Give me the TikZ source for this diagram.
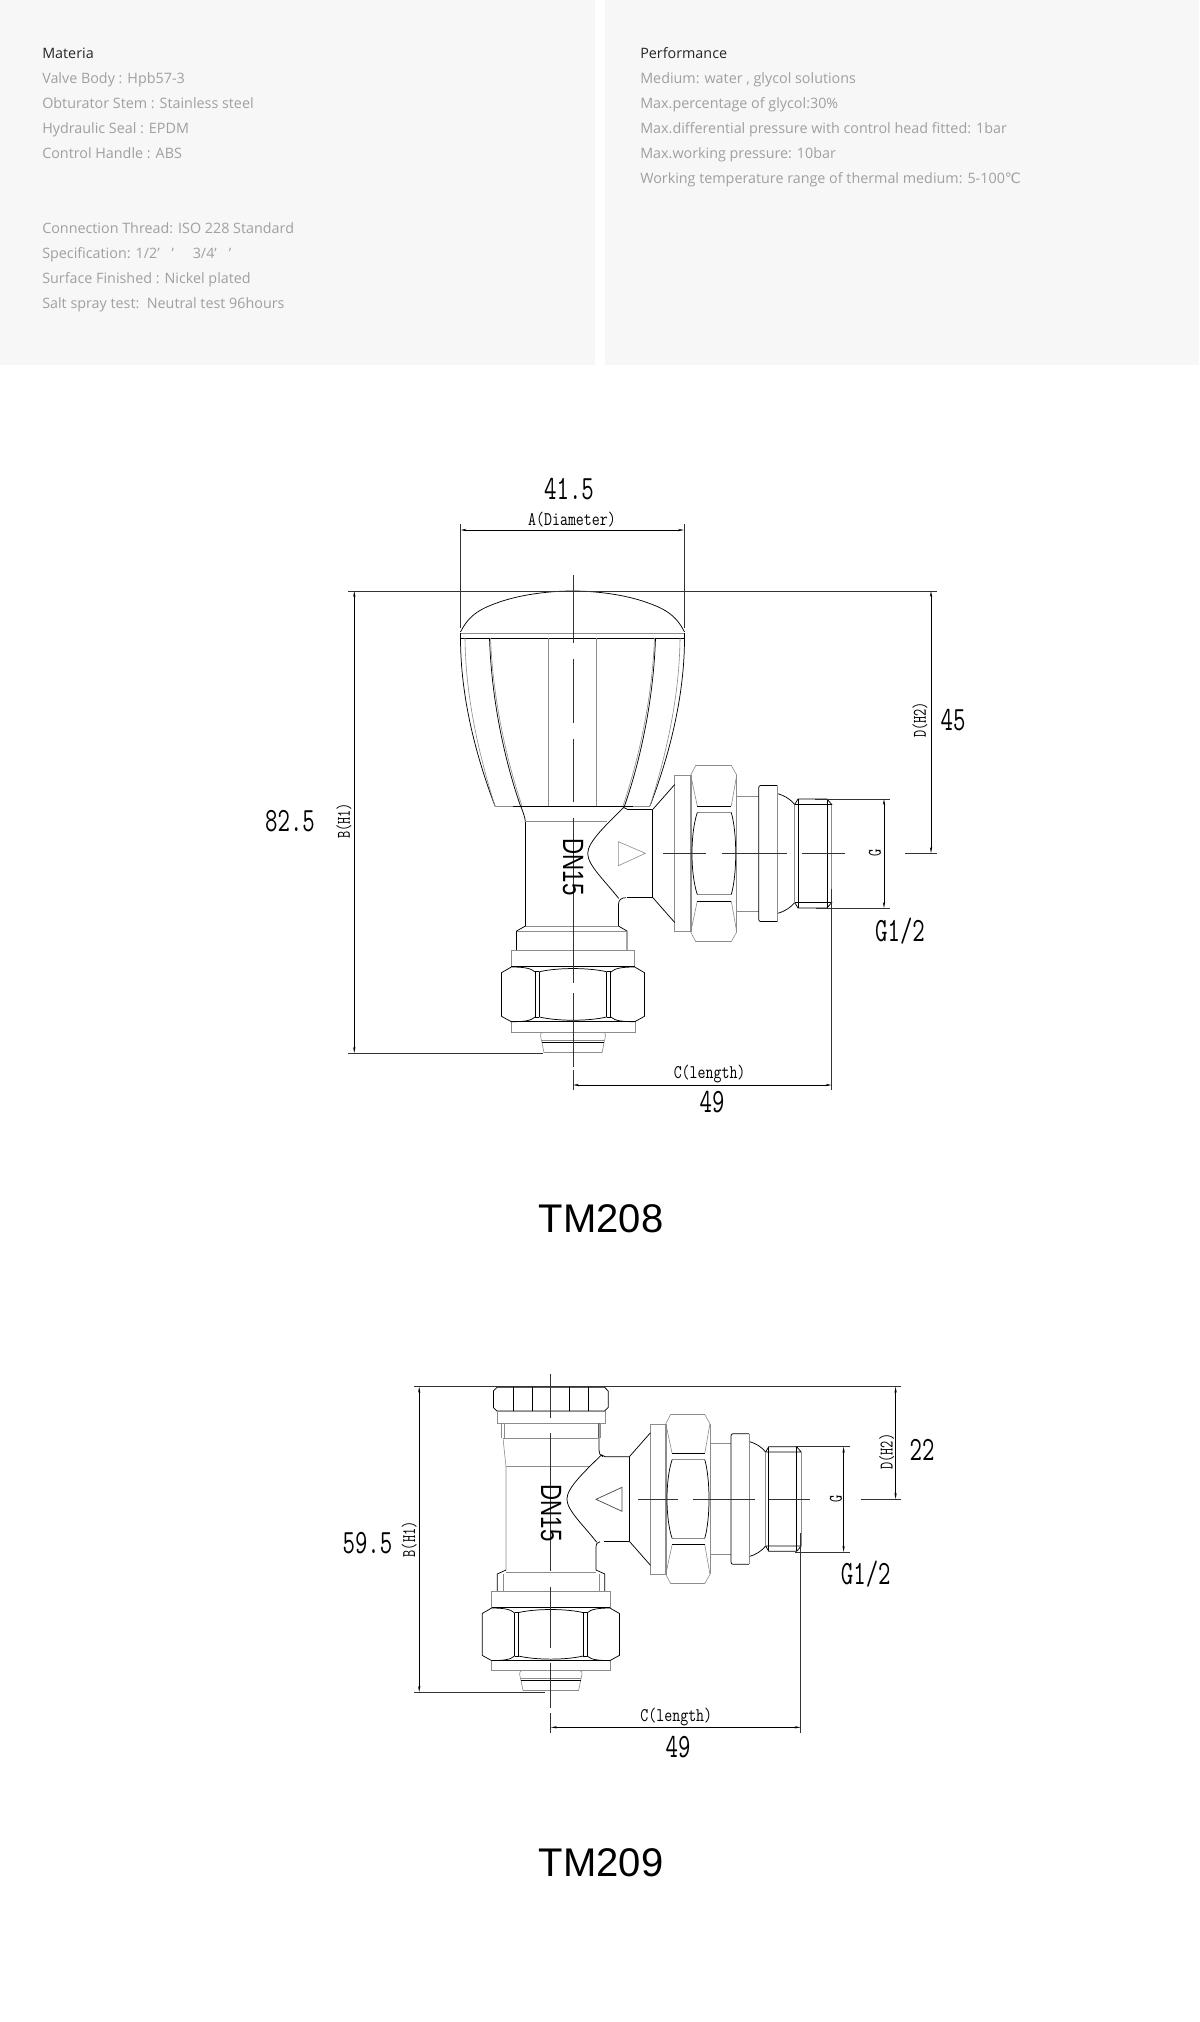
\documentclass[tikz,border=0pt]{standalone}
\usepackage{fontspec}
\usepackage{tikz}
\usetikzlibrary{arrows.meta}
\newfontfamily\panelfont{Open Sans}
\newfontfamily\capfont{Liberation Sans}
\newfontfamily\symfont{DejaVu Sans}
\definecolor{panelgray}{HTML}{F7F7F7}
\definecolor{softtext}{HTML}{A0A0A0}
\tikzset{
    part/.style={line width=.55pt},
    faint/.style={line width=.45pt,black!45},
    axis/.style={line width=.6pt,black!80},
    dimline/.style={line width=.5pt,{Stealth[length=4.5pt,width=1.7pt]}-{Stealth[length=4.5pt,width=1.7pt]}},
    extline/.style={line width=.6pt,black!80},
    bigdim/.style={font=\fontsize{25.5}{26}\ttfamily,xscale=.71,transform shape,inner sep=0pt},
    smalldim/.style={font=\fontsize{14.5}{15}\ttfamily,xscale=.8,transform shape,inner sep=0pt},
    smallup/.style={font=\fontsize{14.5}{15}\ttfamily,rotate=90,xscale=.72,transform shape,inner sep=0pt},
    dnlabel/.style={font=\fontsize{22}{22}\capfont,rotate=-90,xscale=.76,transform shape,inner sep=0pt},
    modelname/.style={font=\fontsize{30}{30}\capfont,inner sep=0pt},
    panelhead/.style={font=\fontsize{10.75}{12}\panelfont,text=black!85,anchor=base west,inner sep=0pt},
    paneltext/.style={font=\fontsize{10.75}{12}\panelfont,text=softtext,anchor=base west,inner sep=0pt},
    % side outlet: origin on the outlet axis, where the body meets the cone
    valvebranch/.pic={
        \draw[part] (0,-44) -- (0,44);
        \draw[part] (-65,0) .. controls (-65,-12) and (-45,-30) .. (-29,-46) -- (-25,-44) -- (0,-44);
        \draw[part] (-65,0) .. controls (-65,12) and (-47,28) .. (-34,45);
        \draw[part] (-26,44) -- (0,44);
        \draw[faint] (22,-78) rectangle (38.6,78);
        \foreach \s in {1,-1} {
            \begin{scope}[yscale=\s]
                % cone and hexagon
                \draw[part] (0,-44) -- (22,-69);
                \draw[faint] (38,-78.5) -- (43,-88) -- (78.6,-88) -- (84,-78.5);
                \draw[faint] (38,-78.5) -- (44.6,-47.5) (84,-78.5) -- (78.6,-47.5);
                \draw[part] (44.6,-47.5) -- (78.6,-47.5);
                \draw[faint] (44.6,-41) -- (78.6,-41);
                % neck, disc, dome, thread
                \draw[faint] (84,-57.7) -- (106,-57.7);
                \draw[part] (124.6,-60) .. controls (132,-58) and (138,-54) .. (142,-49);
                \draw[part] (142,-49) -- (145.3,-54.5) -- (174.3,-54.5) -- (179,-49) -- (142,-49);
            \end{scope}
        }
        \draw[part] (44.6,-41) .. controls (37.5,-20) and (37.5,20) .. (44.6,41);
        \draw[part] (78.6,-41) .. controls (84.5,-20) and (84.5,20) .. (78.6,41);
        \draw[faint] (84,-78.5) -- (84,78.5) (38,-78.5) -- (38,78.5);
        \draw[part,rounded corners=1.5pt] (124.6,-68) -- (106,-68) -- (106,68) -- (124.6,68);
        \draw[faint] (124.6,-68) -- (124.6,68);
        \draw[faint] (142,-49) -- (142,49);
        \draw[part] (145.3,-54.5) -- (145.3,54.5) (174.3,-54.5) -- (174.3,54.5);
        \draw[faint] (179,-49) -- (179,49);
    },
    % lower nut: origin on the pipe axis, at the top of the ring
    lowernut/.pic={
        \draw[faint] (-61.7,0) rectangle (61.7,16.7);
        \draw[faint] (-62,71.7) rectangle (62,82.3);
        \draw[part] (-61.7,16.7) -- (61.7,16.7);
        \foreach \s in {1,-1} {
            \begin{scope}[xscale=\s]
                \draw[part] (-61.7,17) -- (-71.5,22.7) -- (-71.5,66.3) -- (-61.7,71.7);
                \draw[part] (-61.7,17) .. controls (-50,17) and (-42,18) .. (-37.8,22);
                \draw[part] (-61.7,71.7) .. controls (-50,71.7) and (-42,71) .. (-37.8,67);
                \draw[part] (-33.6,21.7) -- (-33.6,67);
                \draw[part] (-37.8,21.7) -- (-37.8,67);
                \draw[faint] (-30,82) .. controls (-32,82) and (-32.5,84) .. (-32.5,86) -- (-31,92.7) -- (-29,102.7);
            \end{scope}
        }
        \draw[part] (-33.6,21.7) .. controls (-15,17.5) and (15,17.5) .. (33.6,21.7);
        \draw[part] (-33.6,67) .. controls (-15,71.3) and (15,71.3) .. (33.6,67);
        \draw[part] (-37.8,67) -- (-33.6,67) (-37.8,21.7) -- (-33.6,21.7) (33.6,21.7) -- (37.8,21.7) (33.6,67) -- (37.8,67);
        \draw[part] (-61.7,71.7) -- (61.7,71.7);
        \draw[faint] (-31,90) -- (31,90);
        \draw[part] (-31,92.7) -- (31,92.7);
        \draw[faint] (-29,102.7) -- (29,102.7);
    }
}

\begin{document}
\begin{tikzpicture}[x=.75pt,y=-.75pt]
    \useasboundingbox (0,0) rectangle (1199,2022);
    \fill[white] (0,0) rectangle (1199,2022);

    % Data panels
    \fill[panelgray] (0,0) rectangle (595,365);
    \fill[panelgray] (605,0) rectangle (1199,365);

    \node[panelhead] (materia) at (42,59) {Materia};
    \node[paneltext] (body) at (42,84) {Valve Body : Hpb57-3};
    \node[paneltext] (stem) at (42,109) {Obturator Stem : Stainless steel};
    \node[paneltext] (seal) at (42,134) {Hydraulic Seal : EPDM};
    \node[paneltext] (handle) at (42,159) {Control Handle : ABS};
    \node[paneltext] (thread) at (42,234) {Connection Thread: ISO 228 Standard};
    \node[paneltext] (spec) at (42,259) {Specification: 1/2’\hspace{9pt}’\hspace{14pt}3/4’\hspace{9pt}’};
    \node[paneltext] (finish) at (42,284) {Surface Finished : Nickel plated};
    \node[paneltext] (salt) at (42,309) {Salt spray test:\ \ Neutral test 96hours};

    \node[panelhead] (perf) at (640,59) {Performance};
    \node[paneltext] (medium) at (640,84) {Medium: water , glycol solutions};
    \node[paneltext] (glycol) at (640,109) {Max.percentage of glycol:30\%};
    \node[paneltext] (diffp) at (640,134) {Max.differential pressure with control head fitted: 1bar};
    \node[paneltext] (workp) at (640,159) {Max.working pressure: 10bar};
    \node[paneltext] (temp) at (640,184) {Working temperature range of thermal medium: 5-100{\symfont ℃}};

    % TM208 handle
    \foreach \s in {1,-1} {
        \begin{scope}[shift={(572.5,0)},xscale=\s]
            \draw[part] (-112,632) .. controls (-103,614) and (-91,608) .. (-70,601) .. controls (-48,594) and (-22,591) .. (0,591);
            \draw[faint] (-112,633) -- (0,633);
            \draw[part] (-112,633) -- (-112,638) -- (0,638);
            \draw[part] (-112,638) .. controls (-112,700) and (-95,760) .. (-77.5,806);
            \draw[faint] (-107.5,638) .. controls (-107,700) and (-92,760) .. (-77.5,806);
            \draw[part] (-83,638) .. controls (-81,700) and (-68,760) .. (-52,806);
            \draw[faint] (-82,638) .. controls (-79.5,700) and (-66,760) .. (-50.5,806);
            \draw[faint] (-24,638) -- (-24,806);
            \draw[part] (-60,806) -- (0,806);
            \draw[faint] (-77.5,806) -- (-60,806);
        \end{scope}
    }

    % TM208 body
    \draw[part] (520.7,806) .. controls (523,812) and (525,817) .. (525.4,822) -- (525.4,926);
    \draw[faint] (525.4,821.7) -- (607,821.7);
    \draw[part] (626,897.7) .. controls (621,897.7) and (618.4,900) .. (618.4,905) -- (618.4,926);
    \draw[faint] (618.4,841.7) -- (645.4,853.3) -- (618.4,865.7) -- cycle;
    \draw[faint] (525.4,926) -- (618.4,926);
    \draw[part] (525.4,926) -- (516.6,931) -- (516.6,950);
    \draw[part] (618.4,926) -- (627,931) -- (627,950);
    \draw[faint] (516.6,931) -- (627,931);
    \pic at (652.7,853.5) {valvebranch};
    \pic at (573,950) {lowernut};

    % TM208 axes
    \draw[axis] (573,575) -- (573,643);
    \draw[axis] (573,659) -- (573,723);
    \draw[axis] (573,739) -- (573,802);
    \draw[axis] (573,818) -- (573,983);
    \draw[axis] (573,993) -- (573,1067);
    \draw[axis] (663,853) -- (706,853);
    \draw[axis] (722,853) -- (787,853);
    \draw[axis] (802,853) -- (845,853);
    \draw[axis] (905,853) -- (937,853);

    % TM208 dimensions
    \draw[extline] (348,591) -- (937,591);
    \draw[extline] (348,1053) -- (543,1053);
    \draw[extline] (460.5,524) -- (460.5,628);
    \draw[extline] (684,524) -- (684,628);
    \draw[dimline] (460.5,530) -- (684,530);
    \draw[dimline] (354.3,591) -- (354.3,1053);
    \draw[dimline] (931,591) -- (931,853);
    \draw[extline] (815,799) -- (890,799);
    \draw[extline] (816,908) -- (890,908);
    \draw[dimline] (884,799) -- (884,908);
    \draw[extline] (831.6,889) -- (831.6,1090);
    \draw[extline] (573,1070) -- (573,1090);
    \draw[dimline] (573,1085) -- (831.6,1085);

    \node[bigdim] (diaval) at (569,489) {41.5};
    \node[smalldim] (dialabel) at (572,520) {A(Diameter)};
    \node[bigdim] (hival) at (290,821) {82.5};
    \node[smallup] (hilabel) at (344,821) {B(H1)};
    \node[smallup] (dlabel) at (920,720) {D(H2)};
    \node[bigdim] (dval) at (953,720) {45};
    \node[smallup] (glabel) at (875,853) {G};
    \node[bigdim] (gval) at (900,931) {G1/2};
    \node[smalldim] (clabel) at (709.6,1074) {C(length)};
    \node[bigdim] (cval) at (712,1102) {49};
    \node[dnlabel] (dn) at (573,867) {DN15};
    \node[modelname] (tma) at (601,1218.5) {TM208};

    % TM209 upper nut
    \draw[part] (497,1387.3) -- (604.6,1387.3) -- (608.2,1391) -- (608.2,1407.5) -- (604.6,1411) -- (497,1411) -- (493.4,1407.5) -- (493.4,1391) -- cycle;
    \foreach \xpos in {513.7,532.8,569.2,588.3} {
        \draw[part] (\xpos,1387.3) -- (\xpos,1411);
    }
    \draw[faint] (497.2,1411) rectangle (604.8,1423.3);
    \draw[faint] (501,1423.3) -- (501,1438.3) (504,1423.3) -- (504,1438.3);
    \draw[faint] (600.6,1423.3) -- (600.6,1438.3) (598,1423.3) -- (598,1438.3);
    \draw[faint] (503,1438.3) -- (598,1438.3);

    % TM209 body
    \draw[faint] (503,1438.3) -- (506,1466.7) -- (506,1570);
    \draw[part] (599,1423.3) -- (599,1450) .. controls (599,1453) and (600,1456) .. (603,1456.7);
    \draw[faint] (506,1466.7) -- (590,1466.7);
    \draw[part] (600,1541.7) .. controls (597,1542) and (596,1544) .. (596,1548) -- (596,1570);
    \draw[part,black!70] (622,1487.3) -- (622,1511.3) -- (596,1499.3) -- cycle;
    \draw[part] (506,1570) -- (497.2,1574) -- (497.2,1591.7);
    \draw[part] (596,1570) -- (604.8,1574) -- (604.8,1591.7);
    \draw[faint] (506,1572) -- (596,1572);
    \draw[faint] (503,1574) -- (503,1591.7) (599,1574) -- (599,1591.7);
    \pic[scale=.96] at (629.3,1499) {valvebranch};
    \pic[scale=.96] at (550.8,1591.7) {lowernut};

    % TM209 axes
    \draw[axis] (550.8,1374) -- (550.8,1418);
    \draw[axis] (550.8,1433) -- (550.8,1571);
    \draw[axis] (550.8,1587) -- (550.8,1648);
    \draw[axis] (550.8,1663) -- (550.8,1708);
    \draw[axis] (638,1499) -- (677.5,1499);
    \draw[axis] (692.8,1499) -- (754.8,1499);
    \draw[axis] (769.3,1499) -- (809.5,1499);
    \draw[axis] (861,1499) -- (901.4,1499);

    % TM209 dimensions
    \draw[extline] (414.2,1386.7) -- (901.4,1386.7);
    \draw[extline] (414.2,1692) -- (545,1692);
    \draw[dimline] (419.2,1386.7) -- (419.2,1692);
    \draw[dimline] (895.6,1386.7) -- (895.6,1499);
    \draw[extline] (795,1446.7) -- (849.7,1446.7);
    \draw[extline] (795,1552) -- (849.7,1552);
    \draw[dimline] (843.6,1446.7) -- (843.6,1552);
    \draw[extline] (800.7,1533.3) -- (800.7,1732.7);
    \draw[extline] (550.8,1713) -- (550.8,1732.7);
    \draw[dimline] (550.8,1727.3) -- (800.7,1727.3);

    \node[bigdim] (hvalb) at (367.5,1542.7) {59.5};
    \node[smallup] (hlabelb) at (409.2,1539.3) {B(H1)};
    \node[smallup] (dlabelb) at (886.8,1451.7) {D(H2)};
    \node[bigdim] (dvalb) at (922,1450) {22};
    \node[smallup] (glabelb) at (836,1499) {G};
    \node[bigdim] (gvalb) at (865.8,1574) {G1/2};
    \node[smalldim] (clabelb) at (676.3,1716.7) {C(length)};
    \node[bigdim] (cvalb) at (678,1747) {49};
    \node[dnlabel] (dnb) at (551,1513) {DN15};
    \node[modelname] (tmb) at (601,1863) {TM209};
\end{tikzpicture}
\end{document}
